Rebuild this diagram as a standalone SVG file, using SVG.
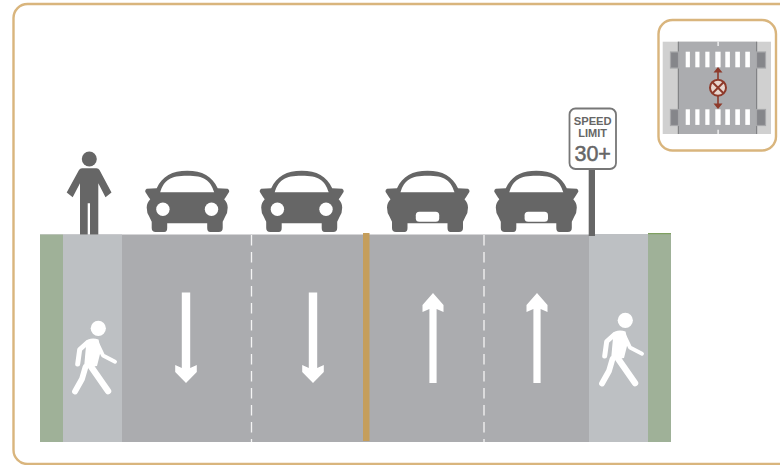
<svg xmlns="http://www.w3.org/2000/svg" xmlns:xlink="http://www.w3.org/1999/xlink" width="780" height="465" viewBox="0 0 780 465">
<style>
.dark{fill:#666}
.frame{fill:#fff;stroke:#d9b57d;stroke-width:2.4}
.lane{stroke:#f4f4f4;stroke-width:1.3;stroke-dasharray:10.5 6.5;fill:none}
.arrow,.stripe{fill:#fff}
.ped{fill:none;stroke:#fff;stroke-linecap:round;stroke-linejoin:round}
.sign{font-family:"Liberation Sans",Arial,sans-serif;fill:#666;text-anchor:middle}
.side{fill:#85868a;stroke:#a6a7a9;stroke-width:1.2}
</style>
<defs>
<g id="carbody">
<path class="dark" fill-rule="evenodd" d="M-30.5 188.3C-25 176-15 170.7 0 170.7C15 170.7 25 176 30.5 188.3L40.5 188.7Q42.3 189.5 42 191.7L38.5 197.3L37 199.3Q40.5 203 40.5 207.5Q40.5 213 38 216.5L35.5 221.7V228Q35.5 232 31.5 232H23Q20 232 20 228V223.3H-20V228Q-20 232-23 232H-31.5Q-35.5 232-35.5 228V221.7L-38 216.5Q-40.5 213-40.5 207.5Q-40.5 203-37 199.3L-38.5 197.3L-42 191.7Q-42.3 189.5-40.5 188.7ZM-27 192.3C-23 180-17 175.7 0 175.7C17 175.7 23 180 27 192.3Z"/>
</g>
<g id="front"><use xlink:href="#carbody" href="#carbody"/><circle cx="-24.3" cy="209.3" r="6.7" fill="#fff"/><circle cx="24.3" cy="209.3" r="6.7" fill="#fff"/></g>
<g id="rear"><use xlink:href="#carbody" href="#carbody"/><rect x="-11.7" y="211.7" width="23.4" height="10" rx="3.5" fill="#fff"/></g>
<path id="down" class="arrow" d="M-4.2 292.5H4.2V368L10.8 365V372L0 383L-10.8 372V365L-4.2 368Z"/>
<path id="up" class="arrow" d="M-3.6 383H3.6V309L10.5 312V305L0 293L-10.5 305V312L-3.6 309Z"/>
<g id="walker">
<circle cx="98.3" cy="328.3" r="7.6" fill="#fff"/>
<path fill="#fff" d="M88 339.5Q93 337.5 98.5 339.5Q100.5 346 100.5 352L97 366L84 368L86 346Z"/>
<path class="ped" stroke-width="5" d="M87.5 342.5L79.7 349.5L77.7 364"/>
<path class="ped" stroke-width="6.5" d="M88.5 363L108 391"/>
<path class="ped" stroke-width="5.8" d="M85.5 367L82 379L75 391.5"/>
<path class="ped" stroke-width="4" d="M98 345L103 355.5L115 361.7"/>
</g>
</defs>

<g id="outer-frame"><rect class="frame" x="13.5" y="4" width="800" height="460" rx="14"/></g>

<g id="road">
<rect x="40" y="234.5" width="631" height="207.5" fill="#abacaf"/>
<rect x="40" y="234.5" width="23" height="207.5" fill="#9fb198"/>
<rect x="63" y="234.5" width="59" height="207.5" fill="#bdc0c3"/>
<rect x="589" y="234" width="59" height="208" fill="#bdc0c3"/>
<rect x="648" y="233.5" width="23" height="208.5" fill="#9fb198"/>
<rect x="648" y="233" width="23" height="1.2" fill="#7fa060"/>
<rect x="363" y="233" width="6.5" height="208" fill="#c59e5b"/>
</g>
<g id="connectors">
<path class="lane" d="M251.5 235V442"/>
<path class="lane" d="M484 235V442"/>
</g>
<g id="arrows">
<use xlink:href="#down" href="#down" x="186"/>
<use xlink:href="#down" href="#down" x="313"/>
<use xlink:href="#up" href="#up" x="433"/>
<use xlink:href="#up" href="#up" x="537"/>
</g>
<g id="walker-left"><use xlink:href="#walker" href="#walker"/></g>
<g id="walker-right"><use xlink:href="#walker" href="#walker" transform="translate(527,-8)"/></g>

<g id="person">
<circle class="dark" cx="89.3" cy="159" r="7.5"/>
<path class="dark" d="M82 168.3H96.5Q98.5 168.3 99.5 170L111.5 192.5L105.5 197.3L98.3 183.3V234.5H90V203.3H87.7V234.5H80V183.3L72.7 197.3L66.7 192.5L79 170Q80 168.3 82 168.3Z"/>
</g>
<g id="car-1"><use xlink:href="#front" href="#front" x="187.2"/></g>
<g id="car-2"><use xlink:href="#front" href="#front" x="301.7"/></g>
<g id="car-3"><use xlink:href="#rear" href="#rear" x="427.5"/></g>
<g id="car-4"><use xlink:href="#rear" href="#rear" x="536.3"/></g>

<g id="speed-sign">
<rect x="588.7" y="168" width="6.3" height="68" class="dark"/>
<rect x="569.5" y="108.5" width="46.5" height="60.5" rx="6" fill="#fff" stroke="#777" stroke-width="1.8"/>
<text class="sign" x="592.7" y="125" font-size="11" font-weight="700" textLength="38" lengthAdjust="spacingAndGlyphs">SPEED</text>
<text class="sign" x="592.7" y="137" font-size="11" font-weight="700">LIMIT</text>
<text class="sign" x="592.7" y="161" font-size="21.5" stroke="#666" stroke-width="0.5">30+</text>
</g>

<g id="inset">
<rect class="frame" x="658.5" y="20" width="117.5" height="130.5" rx="14"/>
<rect x="662.7" y="41.7" width="108.3" height="92.3" fill="#d0d0d0"/>
<rect x="678.3" y="41.7" width="78.4" height="92.3" fill="#abacaf"/>
<path d="M678.3 41.7V134M756.7 41.7V134" stroke="#77787a" stroke-width="1" fill="none"/>
<rect class="side" x="670.5" y="52" width="8" height="16"/>
<rect class="side" x="670.5" y="109.5" width="8" height="16"/>
<rect class="side" x="756.5" y="52" width="9" height="16"/>
<rect class="side" x="756.5" y="109.5" width="9" height="16"/>
<g class="stripe">
<rect x="717.5" y="41.7" width="1.2" height="4.3"/><rect x="717.5" y="129.7" width="1.2" height="4.3"/>
<rect x="685.7" y="51.7" width="4.2" height="15.6"/><rect x="695.3" y="51.7" width="4.2" height="15.6"/><rect x="705.3" y="51.7" width="4.2" height="15.6"/><rect x="715.3" y="51.7" width="5.3" height="15.6"/><rect x="725.3" y="51.7" width="4.6" height="15.6"/><rect x="735.3" y="51.7" width="4.6" height="15.6"/><rect x="745.3" y="51.7" width="4.6" height="15.6"/>
<rect x="685.7" y="109.3" width="4.2" height="15.6"/><rect x="695.3" y="109.3" width="4.2" height="15.6"/><rect x="705.3" y="109.3" width="4.2" height="15.6"/><rect x="715.3" y="109.3" width="5.3" height="15.6"/><rect x="725.3" y="109.3" width="4.6" height="15.6"/><rect x="735.3" y="109.3" width="4.6" height="15.6"/><rect x="745.3" y="109.3" width="4.6" height="15.6"/>
</g>
<path d="M718 70V106" stroke="#8e3a2b" stroke-width="1.6" fill="none"/>
<path d="M718 67L713.5 72.5H722.5ZM718 109L713.5 103.5H722.5Z" fill="#8e3a2b"/>
<circle cx="718" cy="87.7" r="8" fill="#e8d6cf" stroke="#8e3a2b" stroke-width="2"/>
<path d="M712.5 82.2L723.5 93.2M723.5 82.2L712.5 93.2" stroke="#8e3a2b" stroke-width="2"/>
</g>
</svg>
